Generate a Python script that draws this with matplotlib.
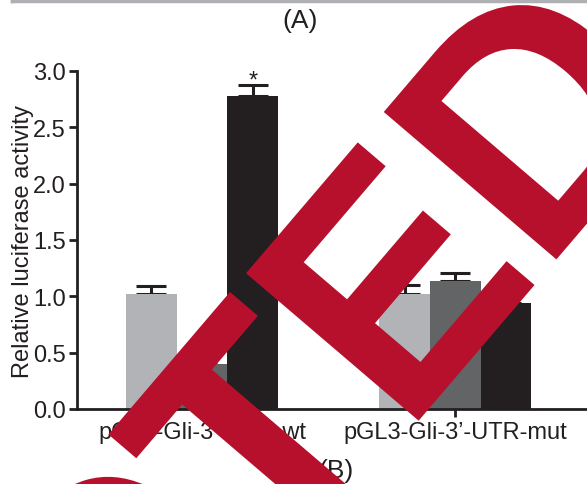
import matplotlib
matplotlib.use('Agg')
import matplotlib.pyplot as plt
from matplotlib.textpath import TextPath
from matplotlib.font_manager import FontProperties
from matplotlib.patches import PathPatch
from matplotlib.transforms import Affine2D, IdentityTransform
from matplotlib.lines import Line2D
import numpy as np

# data
groups = ["pGL3-Gli-3\u2019-UTR-wt", "pGL3-Gli-3\u2019-UTR-mut"]
series_colors = ["#b1b3b6", "#636466", "#231f20"]
values = [
    [1.02, 0.40, 2.78],   # wt
    [1.02, 1.14, 0.94],   # mut
]
errors = [
    [0.07, 0.06, 0.10],
    [0.08, 0.07, 0.09],
]
stars = [[False, False, True], [False, False, False]]
stamp_text = "RETRACTED"

W, H, DPI = 587, 485, 100
plt.rcParams['font.family'] = ['Liberation Sans', 'DejaVu Sans']
FS = 17

fig = plt.figure(figsize=(W / DPI, H / DPI), dpi=DPI)
ax = fig.add_axes([77 / W, 75 / H, 510 / W, 338 / H])

bar_w = 0.2
x = np.arange(len(groups))
for gi in range(len(groups)):
    for si in range(3):
        xpos = x[gi] + (si - 1) * bar_w
        v = values[gi][si]
        ax.errorbar(xpos, v, yerr=[[0], [errors[gi][si]]], fmt='none',
                    ecolor='#231f20', elinewidth=2.2, capsize=11,
                    capthick=2.2, zorder=1)
        ax.bar(xpos, v, width=bar_w, color=series_colors[si], zorder=2)
        if stars[gi][si]:
            ax.text(xpos, v + errors[gi][si] - 0.02, "*", ha='center',
                    va='baseline', fontsize=FS, color='#231f20',
                    clip_on=False)

ax.set_xlim(-0.494, 1.52)
ax.set_ylim(0, 3.0)
ticks = np.arange(0, 3.01, 0.5)
ax.set_yticks(ticks)
ax.set_yticklabels([f"{t:.1f}" for t in ticks])
ax.set_xticks(x)
ax.set_xticklabels(groups)
ax.set_ylabel("Relative luciferase activity", fontsize=FS, color='#231f20',
              labelpad=-0.5)
for s in ['top', 'right']:
    ax.spines[s].set_visible(False)
for s in ['left', 'bottom']:
    ax.spines[s].set_linewidth(2)
    ax.spines[s].set_color('#231f20')
ax.tick_params(width=2, length=6, color='#231f20', labelsize=FS,
               labelcolor='#231f20', pad=2)
ax.tick_params(axis='x', pad=3)

# panel labels and the edge of the box above
fig.text(300 / W, 1 - 21 / H, "(A)", ha='center', va='center', fontsize=19,
         color='#231f20')
fig.text(336 / W, 1 - 471 / H, "(B)", ha='center', va='center', fontsize=19,
         color='#231f20')
fig.add_artist(Line2D([12 / W, 1], [1 - 2 / H, 1 - 2 / H], color='#aeb0b3',
                      lw=2.5, transform=fig.transFigure))
fig.add_artist(Line2D([12 / W, 12 / W], [1 - 2 / H, 1], color='#aeb0b3',
                      lw=2.5, transform=fig.transFigure))

# red stamp across the figure
prop = FontProperties(family='Liberation Sans', weight='bold')
path = TextPath((0, 0), stamp_text, size=1, prop=prop)
ext_t = TextPath((0, 0), stamp_text[:7], size=1, prop=prop).get_extents()
cap = TextPath((0, 0), "T", size=1, prop=prop).get_extents().y1
em_u, em_v, ang = 318, 330, 49.5
tr = (Affine2D().translate(-ext_t.x1, -cap).scale(em_u, em_v)
      .rotate_deg(ang).translate(230, H - 293))
stamp = PathPatch(tr.transform_path(path), facecolor='#b7102d',
                  edgecolor='none', transform=IdentityTransform(), zorder=10)
fig.add_artist(stamp)

fig.savefig("out.png", dpi=DPI)
